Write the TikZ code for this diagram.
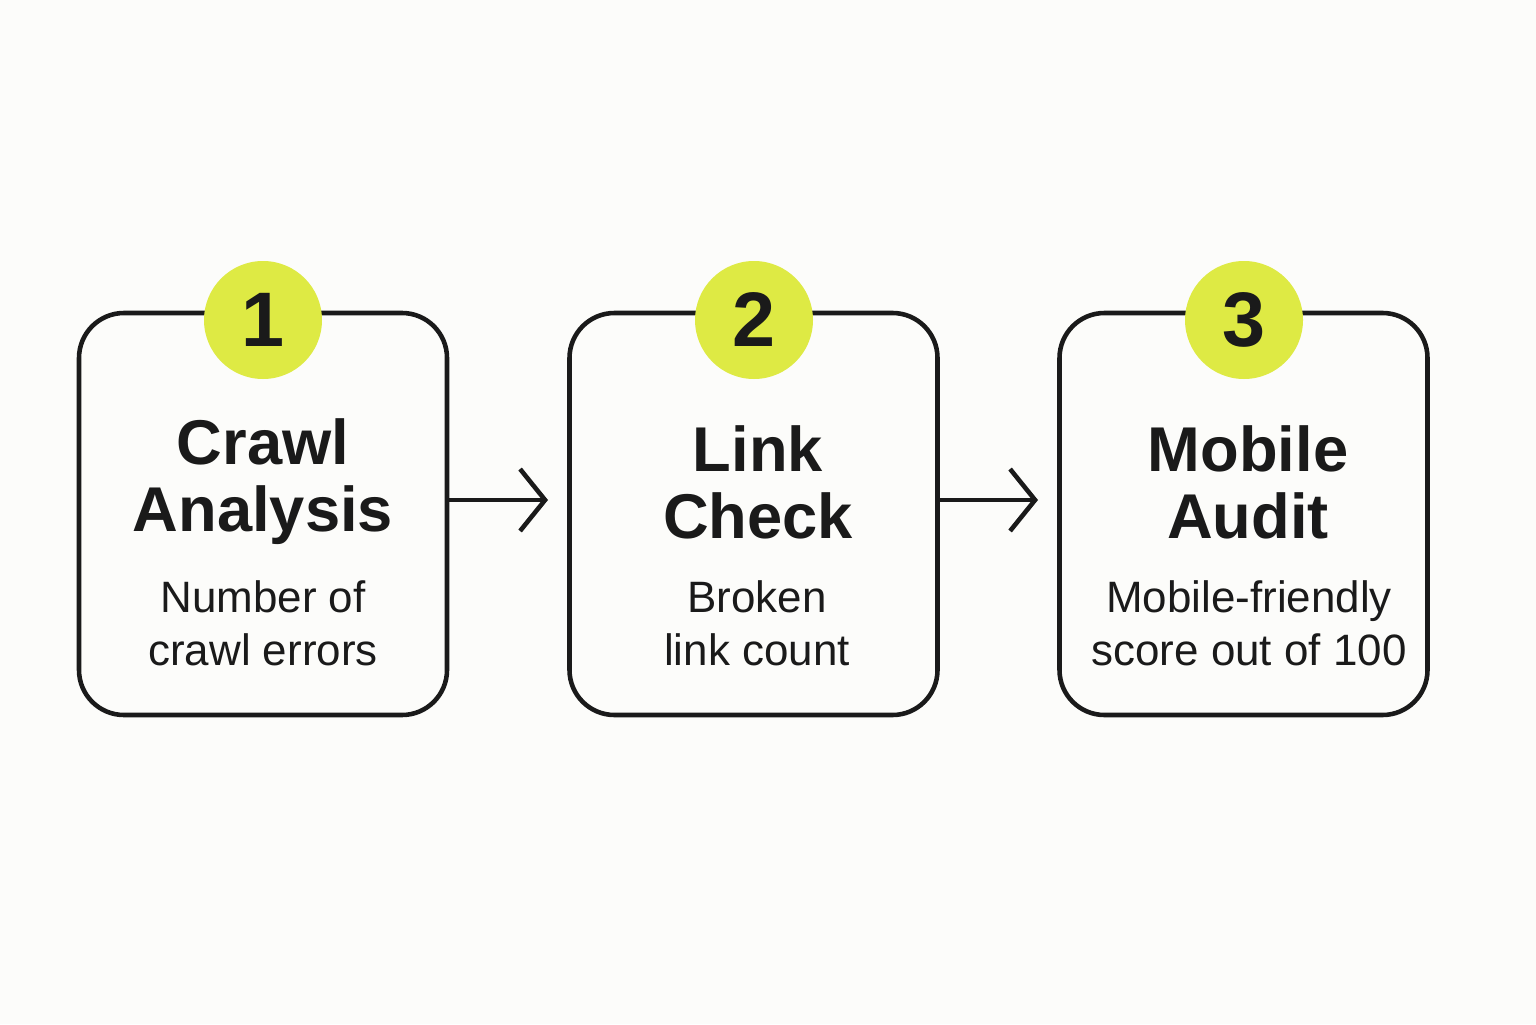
\documentclass[tikz,border=0pt]{standalone}
\usepackage{fontspec}
\setmainfont{Liberation Sans}
\usetikzlibrary{arrows.meta}
\definecolor{lime}{RGB}{222,234,68}
\definecolor{ink}{RGB}{26,26,26}
\definecolor{paper}{RGB}{252,252,250}
\tikzset{box/.style={draw=ink,line width=1.3pt,rounded corners=0.45cm,minimum width=3.68cm,minimum height=4.02cm}}
\tikzset{num/.style={circle,fill=lime,minimum size=1.18cm,font=\fontsize{22}{22}\selectfont\bfseries,text=ink}}
\tikzset{ttl/.style={align=center,font=\fontsize{18}{19}\selectfont\bfseries,text=ink}}
\tikzset{sub/.style={align=center,font=\fontsize{12.5}{15}\selectfont,text=ink}}
\tikzset{arr/.style={draw=ink,line width=1.3pt,-{Straight Barb[length=0.25cm,width=0.62cm]}}}

\begin{document}
\begin{tikzpicture}
        \fill[paper] (0,0) rectangle (15.36,10.24);
        \useasboundingbox (0,0) rectangle (15.36,10.24);
        \node[box] (B1) at (2.63,5.10) {};
        \node[box] (B2) at (7.535,5.10) {};
        \node[box] (B3) at (12.435,5.10) {};
        \node[num] (N1) at (2.63,7.04) {1};
        \node[num] (N2) at (7.54,7.04) {2};
        \node[num] (N3) at (12.44,7.04) {3};
        \node[ttl] (T1) at (2.63,5.42) {Crawl\\Analysis};
        \node[ttl] (T2) at (7.58,5.42) {Link\\Check};
        \node[ttl] (T3) at (12.48,5.42) {Mobile\\Audit};
        \node[sub] (S1) at (2.63,4.01) {Number of\\crawl errors};
        \node[sub] (S2) at (7.57,4.01) {Broken\\link count};
        \node[sub] (S3) at (12.49,4.01) {Mobile-friendly\\score out of 100};
        \coordinate (E1) at (5.48,5.24);
        \coordinate (E2) at (10.38,5.24);
        \draw[arr] (B1.east |- E1) -- (E1);
        \draw[arr] (B2.east |- E2) -- (E2);
      \end{tikzpicture}
\end{document}
